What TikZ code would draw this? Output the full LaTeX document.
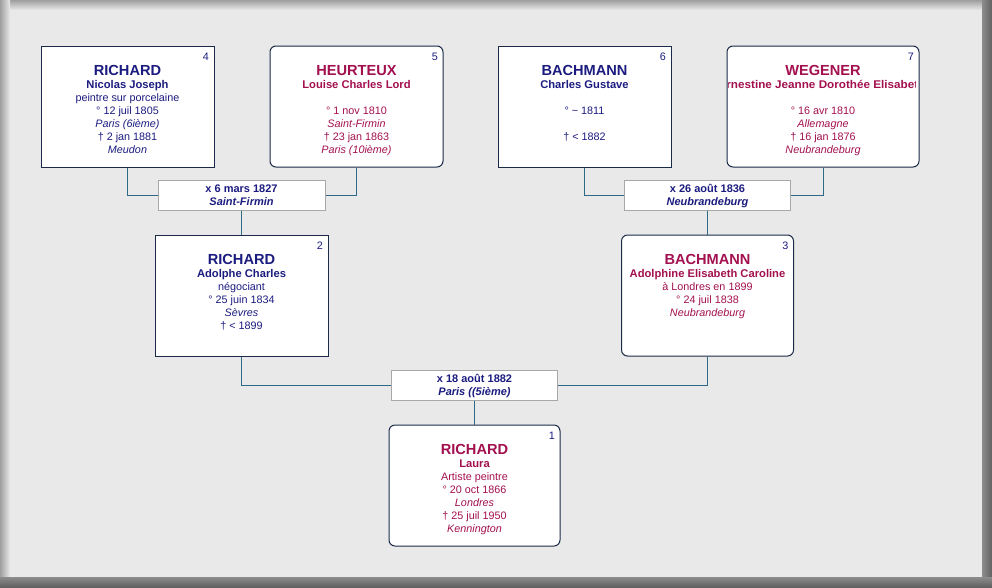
\documentclass[tikz,border=0pt]{standalone}
\usepackage{fontspec}
\setmainfont{Liberation Sans}
\definecolor{navy}{HTML}{1C1C80}
\definecolor{crim}{HTML}{A3104F}
\definecolor{boxline}{HTML}{1A2A48}
\definecolor{conn}{HTML}{2E6A88}
\definecolor{mline}{HTML}{A8A8A8}
\definecolor{bgc}{HTML}{E9E9E9}
\tikzset{
  pbox/.style={rectangle, draw=boxline, fill=white, line width=1pt, inner sep=0pt},
  male/.style={pbox},
  female/.style={pbox, rounded corners=6pt},
  mbox/.style={rectangle, draw=mline, fill=white, line width=1pt, inner sep=0pt,
    minimum height=30pt},
  wire/.style={draw=conn, line width=1pt},
  nm/.style={inner sep=0pt, anchor=base, font=\fontsize{14.6}{16}\selectfont\bfseries},
  fn/.style={inner sep=0pt, anchor=base, font=\fontsize{11.2}{13}\selectfont\bfseries},
  tx/.style={inner sep=0pt, anchor=base, font=\fontsize{10.8}{13}\selectfont},
  pl/.style={inner sep=0pt, anchor=base, font=\fontsize{10.8}{13}\selectfont\itshape},
  mx/.style={inner sep=0pt, anchor=base, text=navy, font=\fontsize{11}{13}\selectfont\bfseries},
  mp/.style={inner sep=0pt, anchor=base, text=navy, font=\fontsize{11}{13}\selectfont\bfseries\itshape},
  num/.style={inner sep=0pt, anchor=base east, text=navy, font=\fontsize{10.8}{13}\selectfont},
  ma/.style={text=navy},
  fe/.style={text=crim}
}
% \tl{name}{box}{offset}{style}{text}
\newcommand\tl[5]{\node[#4] (#1) at ([yshift=-#3pt]#2.north) {#5};}
\newcommand\tnum[3]{\node[num] (#1) at ([xshift=-5.5pt,yshift=-15pt]#2.north east) {#3};}
\begin{document}
\begin{tikzpicture}[x=1pt,y=-1pt]
\useasboundingbox (0,0) rectangle (992,587);
% frame
\fill[bgc] (0,0) rectangle (992,587);
\shade[top color=black!38, bottom color=bgc] (0,0) rectangle (992,10);
\shade[left color=black!38, right color=bgc] (0,0) rectangle (10,587);
\shade[left color=black!45, right color=black!62] (982,0) rectangle (992,587);
\shade[top color=black!45, bottom color=black!62] (0,577) rectangle (992,587);

% person boxes
\node[male,   minimum width=173pt, minimum height=121pt] (b4) at (127.5,106.5) {};
\node[female, minimum width=173pt, minimum height=121pt] (b5) at (356.5,106.5) {};
\node[male,   minimum width=173pt, minimum height=121pt] (b6) at (584.5,106.5) {};
\node[female, minimum width=192pt, minimum height=121pt] (b7) at (823,106.5) {};
\node[male,   minimum width=173pt, minimum height=121pt] (b2) at (241.5,295.5) {};
\node[female, minimum width=172pt, minimum height=121pt] (b3) at (707.5,295.5) {};
\node[female, minimum width=171pt, minimum height=121pt] (b1) at (474.5,485.5) {};

% marriage boxes
\node[mbox, minimum width=167pt] (m1) at (241.5,195) {};
\node[mbox, minimum width=166pt] (m2) at (707.5,195) {};
\node[mbox, minimum width=166pt] (m3) at (474.5,385) {};

% connectors
\draw[wire] (b4.south) |- (m1.west);
\draw[wire] (b5.south) |- (m1.east);
\draw[wire] (m1.south) -- (b2.north);
\draw[wire] (b6.south) |- (m2.west);
\draw[wire] (b7.south) |- (m2.east);
\draw[wire] (m2.south) -- (b3.north);
\draw[wire] (b2.south) |- (m3.west);
\draw[wire] (b3.south) |- (m3.east);
\draw[wire] (m3.south) -- (b1.north);

% box 4
\tnum{n4}{b4}{4}
\tl{b4a}{b4}{30}{nm,ma}{RICHARD}
\tl{b4b}{b4}{43}{fn,ma}{Nicolas Joseph}
\tl{b4c}{b4}{56}{tx,ma}{peintre sur porcelaine}
\tl{b4d}{b4}{69}{tx,ma}{° 12 juil 1805}
\tl{b4e}{b4}{82}{pl,ma}{Paris (6ième)}
\tl{b4f}{b4}{95}{tx,ma}{† 2 jan 1881}
\tl{b4g}{b4}{108}{pl,ma}{Meudon}

% box 5
\tnum{n5}{b5}{5}
\tl{b5a}{b5}{30}{nm,fe}{HEURTEUX}
\tl{b5b}{b5}{43}{fn,fe}{Louise Charles Lord}
\tl{b5d}{b5}{69}{tx,fe}{° 1 nov 1810}
\tl{b5e}{b5}{82}{pl,fe}{Saint-Firmin}
\tl{b5f}{b5}{95}{tx,fe}{† 23 jan 1863}
\tl{b5g}{b5}{108}{pl,fe}{Paris (10ième)}

% box 6
\tnum{n6}{b6}{6}
\tl{b6a}{b6}{30}{nm,ma}{BACHMANN}
\tl{b6b}{b6}{43}{fn,ma}{Charles Gustave}
\tl{b6d}{b6}{69}{tx,ma}{° \textasciitilde\ 1811}
\tl{b6f}{b6}{95}{tx,ma}{† < 1882}

% box 7
\tnum{n7}{b7}{7}
\tl{b7a}{b7}{30}{nm,fe}{WEGENER}
\begin{scope}
\clip ([xshift=2pt]b7.south west) rectangle ([xshift=-4pt]b7.north east);
\node[fn,fe,xscale=1.045] (b7b) at ([xshift=-1pt,yshift=-43pt]b7.north) {Ernestine Jeanne Dorothée Elisabeth};
\end{scope}
\tl{b7d}{b7}{69}{tx,fe}{° 16 avr 1810}
\tl{b7e}{b7}{82}{pl,fe}{Allemagne}
\tl{b7f}{b7}{95}{tx,fe}{† 16 jan 1876}
\tl{b7g}{b7}{108}{pl,fe}{Neubrandeburg}

% box 2
\tnum{n2}{b2}{2}
\tl{b2a}{b2}{30}{nm,ma}{RICHARD}
\tl{b2b}{b2}{43}{fn,ma}{Adolphe Charles}
\tl{b2c}{b2}{56}{tx,ma}{négociant}
\tl{b2d}{b2}{69}{tx,ma}{° 25 juin 1834}
\tl{b2e}{b2}{82}{pl,ma}{Sèvres}
\tl{b2f}{b2}{95}{tx,ma}{† < 1899}

% box 3
\tnum{n3}{b3}{3}
\tl{b3a}{b3}{30}{nm,fe}{BACHMANN}
\tl{b3b}{b3}{43}{fn,fe}{Adolphine Elisabeth Caroline}
\tl{b3c}{b3}{56}{tx,fe}{à Londres en 1899}
\tl{b3d}{b3}{69}{tx,fe}{° 24 juil 1838}
\tl{b3e}{b3}{82}{pl,fe}{Neubrandeburg}

% box 1
\tnum{n1}{b1}{1}
\tl{b1a}{b1}{30}{nm,fe}{RICHARD}
\tl{b1b}{b1}{43}{fn,fe}{Laura}
\tl{b1c}{b1}{56}{tx,fe}{Artiste peintre}
\tl{b1d}{b1}{69}{tx,fe}{° 20 oct 1866}
\tl{b1e}{b1}{82}{pl,fe}{Londres}
\tl{b1f}{b1}{95}{tx,fe}{† 25 juil 1950}
\tl{b1g}{b1}{108}{pl,fe}{Kennington}

% marriage texts
\tl{m1a}{m1}{12.7}{mx}{x 6 mars 1827}
\tl{m1b}{m1}{25.7}{mp}{Saint-Firmin}
\tl{m2a}{m2}{12.7}{mx}{x 26 août 1836}
\tl{m2b}{m2}{25.7}{mp}{Neubrandeburg}
\tl{m3a}{m3}{12.7}{mx}{x 18 août 1882}
\tl{m3b}{m3}{25.7}{mp}{Paris ((5ième)}
\end{tikzpicture}
\end{document}
